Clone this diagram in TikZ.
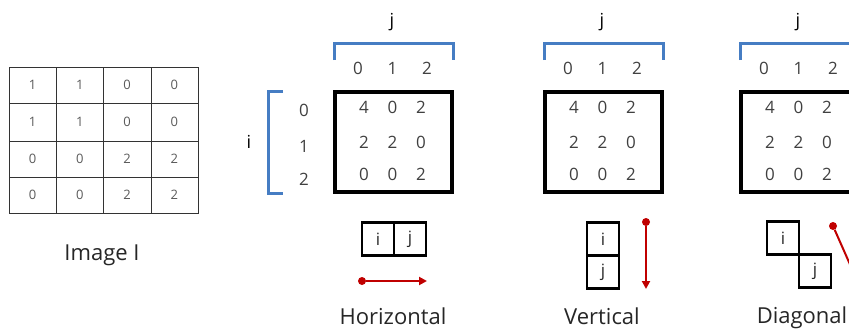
\documentclass[tikz,border=0pt]{standalone}
\usepackage{fontspec}
\setmainfont{Open Sans}
\usetikzlibrary{arrows.meta}
\definecolor{brk}{RGB}{70,125,195}
\definecolor{arr}{RGB}{192,0,0}
\definecolor{digit}{RGB}{64,64,64}
\definecolor{tdigit}{RGB}{90,90,90}
\tikzset{
  tcell/.style={font=\fontsize{13}{15}\selectfont, text=tdigit, inner sep=0},
  entry/.style={font=\fontsize{17}{20}\selectfont, text=digit, inner sep=0},
  axis/.style={font=\fontsize{18}{20}\selectfont, text=black, inner sep=0},
  caption/.style={font=\fontsize{22}{26}\selectfont, text=black!85, inner sep=0, anchor=base},
  matbox/.style={draw=black, line width=3.3pt, minimum width=117pt, minimum height=100pt, inner sep=0},
  pairbox/.style={draw=black, line width=2.7pt, minimum width=32pt, minimum height=33pt, inner sep=0,
    font=\fontsize{17}{20}\selectfont, text=black!85},
  bracket/.style={draw=brk, line width=3pt},
  dot/.style={circle, fill=arr, minimum size=8pt, inner sep=0},
  redarrow/.style={draw=arr, line width=2pt, -{Triangle[length=8pt,width=8pt]}},
}
\begin{document}
\begin{tikzpicture}[x=1pt,y=-1pt]
\useasboundingbox (0,0) rectangle (849,332);
\clip (0,0) rectangle (849,332);

% ---- Image I: 4x4 table ----
\draw[black!80, line width=0.9pt] (9,67) rectangle (198,213);
\foreach \x in {56,103,151} \draw[black!80, line width=0.9pt] (\x,67) -- (\x,213);
\foreach \y in {103,141,177} \draw[black!80, line width=0.9pt] (9,\y) -- (198,\y);
\foreach \r/\y/\vals in {1/85/{1,1,0,0},2/122/{1,1,0,0},3/159/{0,0,2,2},4/195/{0,0,2,2}}{
  \foreach \v [count=\c] in \vals {
    \node[tcell] (t-\r-\c) at ({32.5+47.25*(\c-1)},\y) {\v};
  }
}
\node[caption] (capI) at (102,260) {Image I};

% ---- three co-occurrence matrices ----
\foreach \k/\bx in {1/334,2/544,3/740}{
  \node[matbox] (box\k) at ({\bx+59.5},142) {};
  \draw[bracket] (\bx,60) |- ({\bx+119},43) -- ({\bx+119},60);
  \node[axis] (jlab\k) at ({\bx+58},22) {j};
  \foreach \v [count=\c] in {0,1,2}
    \node[entry] (col\k-\c) at ({\bx+24+34.5*(\c-1)},68) {\v};
  \foreach \r/\y/\vals in {1/107/{4,0,2},2/142/{2,2,0},3/174/{0,0,2}}{
    \foreach \v [count=\c] in \vals
      \node[entry] (m\k-\r-\c) at ({\bx+30+28.5*(\c-1)},\y) {\v};
  }
}

% row axis of the first matrix
\draw[bracket] (283,91) -| (268,193) -- (283,193);
\node[axis] (ilab) at (249,142) {i};
\foreach \v/\y [count=\r] in {0/110,1/146,2/179}
  \node[entry] (row-\r) at (304,\y) {\v};

% ---- Horizontal ----
\node[pairbox] (hi) at (378,239) {i};
\node[pairbox] (hj) at (410,239) {j};
\node[dot] (h0) at (362,281) {};
\coordinate (h1) at (427,281);
\draw[redarrow] (h0) -- (h1);
\node[caption] (capH) at (393,324) {Horizontal};

% ---- Vertical ----
\node[pairbox] (vi) at (603,239) {i};
\node[pairbox] (vj) at (603,272) {j};
\node[dot] (v0) at (646,222) {};
\coordinate (v1) at (646,289);
\draw[redarrow] (v0) -- (v1);
\node[caption] (capV) at (602,324) {Vertical};

% ---- Diagonal ----
\node[pairbox] (di) at (783,238) {i};
\node[pairbox] (dj) at (815,271) {j};
\node[dot] (d0) at (833,226) {};
\coordinate (d1) at (860,287);
\draw[redarrow] (d0) -- (d1);
\node[caption] (capD) at (802,323) {Diagonal};
\end{tikzpicture}
\end{document}
